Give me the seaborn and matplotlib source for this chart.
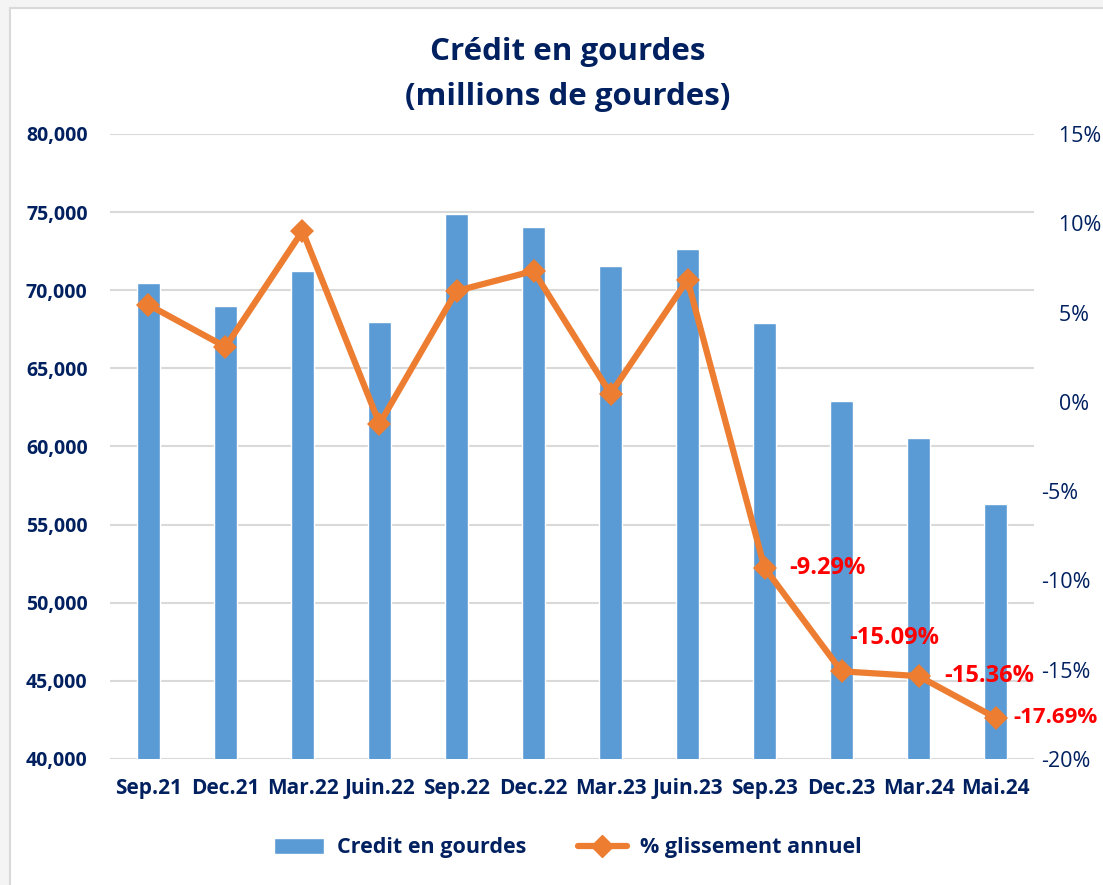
import numpy as np
import pandas as pd
import seaborn as sns
from matplotlib import pyplot as plt
from matplotlib.patches import Rectangle
from matplotlib.lines import Line2D
from matplotlib.ticker import FuncFormatter

periods = ['Sep.21', 'Dec.21', 'Mar.22', 'Juin.22', 'Sep.22', 'Dec.22',
           'Mar.23', 'Juin.23', 'Sep.23', 'Dec.23', 'Mar.24', 'Mai.24']
credit = [70460, 68990, 71230, 67970, 74880, 74050,
          71550, 72640, 67900, 62910, 60540, 56320]
glissement = [5.43, 3.08, 9.57, -1.23, 6.21, 7.33,
              0.45, 6.83, -9.29, -15.09, -15.36, -17.69]
labelled = ['Sep.23', 'Dec.23', 'Mar.24', 'Mai.24']

navy = '#002060'
blue = '#5B9BD5'
orange = '#ED7D31'
grid = '#D9D9D9'

sns.set_style('white')
plt.rcParams['font.family'] = ['Open Sans', 'DejaVu Sans']

df = pd.DataFrame({'periode': periods, 'credit': credit,
                   'glissement': glissement, 'pos': np.arange(len(periods))})

fig = plt.figure(figsize=(11.03, 8.85), dpi=100)
fig.patch.set_facecolor('#F4F4F4')
fig.patches.append(Rectangle((10 / 1103, -0.1), 1.2, 1.1 - 8 / 885,
                             transform=fig.transFigure, facecolor='white',
                             edgecolor=grid, linewidth=1.5, zorder=-1))

ax = fig.add_axes([0.0997, 0.1424, 0.8378, 0.7062])
ax.set_facecolor('none')
sns.barplot(data=df, x='periode', y='credit', color=blue, width=0.31,
            saturation=1, ax=ax, zorder=2)
ax.set_ylim(40000, 80000)
ax.set_yticks(range(40000, 80001, 5000))
ax.yaxis.set_major_formatter(FuncFormatter(lambda v, p: f'{v:,.0f}'))
ax.grid(axis='y', color=grid, linewidth=1.5, zorder=0)
ax.set_axisbelow(True)
ax.set_xlim(-0.5, len(periods) - 0.5)
ax.set_xlabel('')
ax.set_ylabel('')
for s in ax.spines.values():
    s.set_visible(False)
ax.tick_params(axis='y', length=0, pad=16, labelsize=14, labelcolor=navy)
ax.tick_params(axis='x', length=0, pad=14, labelsize=15, labelcolor=navy)
for t in ax.get_yticklabels() + ax.get_xticklabels():
    t.set_fontweight('bold')

ax2 = ax.twinx()
sns.lineplot(data=df, x='pos', y='glissement', color=orange, linewidth=4.5,
             marker='D', markersize=12, markeredgewidth=0, ax=ax2)
ax2.set_ylim(-20, 15)
ax2.set_yticks(range(-20, 16, 5))


def pct(v, p):
    # positives are pushed right, as in the original Excel axis
    return f'{v:.0f}%' if v < 0 else f'\u2007 {v:.0f}%'


ax2.yaxis.set_major_formatter(FuncFormatter(pct))
ax2.set_xlim(-0.5, len(periods) - 0.5)
ax2.set_xlabel('')
ax2.set_ylabel('')
for s in ax2.spines.values():
    s.set_visible(False)
ax2.tick_params(axis='y', length=0, pad=5, labelsize=15.5, labelcolor=navy)

# offset in pixels and font size of each red label
offsets = {'Sep.23': (25, 0), 'Dec.23': (8, 33), 'Mar.24': (26, 0), 'Mai.24': (18, 0)}
sizes = {'Sep.23': 17, 'Dec.23': 17, 'Mar.24': 17, 'Mai.24': 16}
for _, r in df[df['periode'].isin(labelled)].iterrows():
    ax2.annotate(f"{r['glissement']:.2f}%", (r['pos'], r['glissement']),
                 xytext=offsets[r['periode']], textcoords='offset pixels',
                 ha='left', va='center', color='#FF0000',
                 fontsize=sizes[r['periode']], fontweight='bold',
                 annotation_clip=False)

fig.text(0.515, 1 - 52 / 885, 'Crédit en gourdes', ha='center', va='center',
         fontsize=22.5, fontweight='bold', color=navy)
fig.text(0.515, 1 - 97 / 885, '(millions de gourdes)', ha='center', va='center',
         fontsize=22.5, fontweight='bold', color=navy)

handles = [Rectangle((0, 0), 1, 1, facecolor=blue),
           Line2D([], [], color=orange, linewidth=4.5, marker='D', markersize=11)]
leg = fig.legend(handles, ['Credit en gourdes', '% glissement annuel'],
                 loc='center', bbox_to_anchor=(0.515, 1 - 848 / 885), ncol=2,
                 frameon=False, handlelength=2.3, handletextpad=0.6,
                 columnspacing=2.4, prop={'size': 15.5, 'weight': 'bold'})
for t in leg.get_texts():
    t.set_color(navy)

fig.savefig('out.png', dpi=100, facecolor=fig.get_facecolor())
